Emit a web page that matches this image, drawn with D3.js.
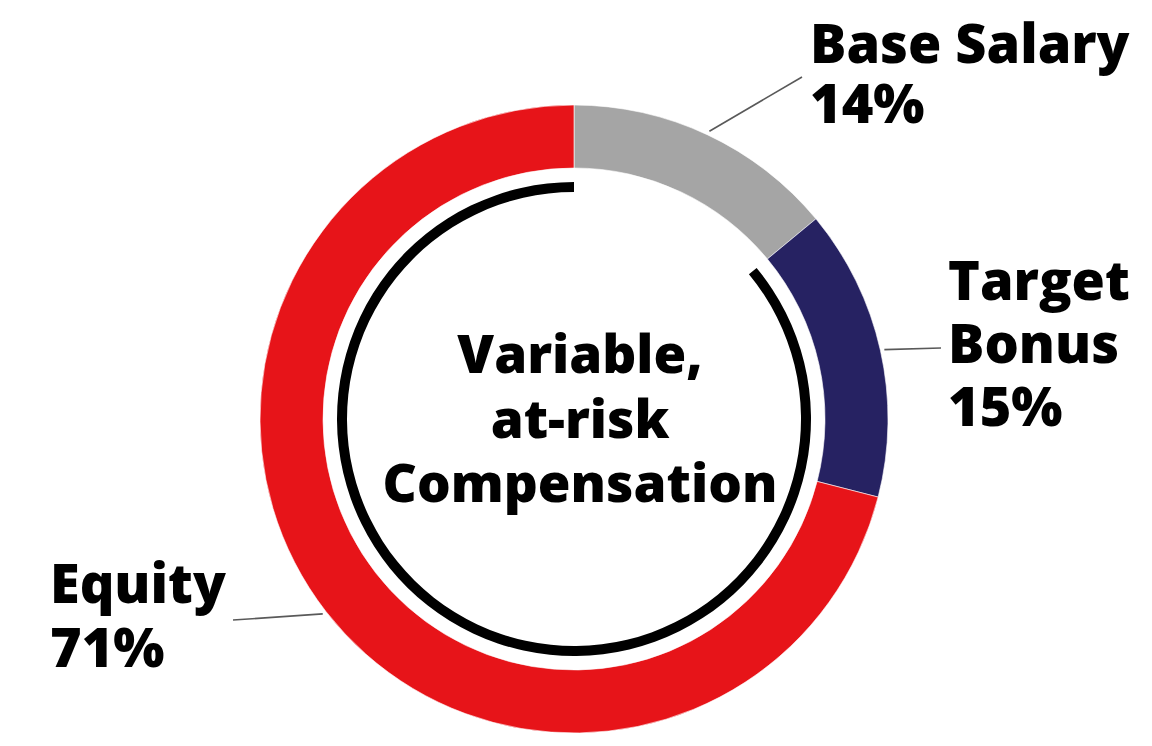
<!DOCTYPE html>
<html>
<head>
    <title>Variable, at-risk compensation</title>
    <style>
        body { margin: 0; background: #fff; }
        text { font-family: "Open Sans", "Noto Sans", sans-serif; font-weight: 800; fill: #000; }
    </style>
</head>
<body>
<svg id="chart" width="1152" height="746"></svg>

<script src="https://d3js.org/d3.v7.min.js"></script>
<script type="text/javascript">

const categories = ['Base Salary', 'Target Bonus', 'Equity'];
const values = [14, 15, 71];
const labelLines = [['Base Salary', '14%'], ['Target', 'Bonus', '15%'], ['Equity', '71%']];
const centerLines = ['Variable,', 'at-risk', 'Compensation'];
// categories that make up the variable part (black inner arc)
const variable = ['Target Bonus', 'Equity'];

function render() {
    const svg = d3.select('#chart');
    const cx = 574, cy = 419;
    const outerR = 314, innerR = 251;

    const color = d3.scaleOrdinal()
        .domain(categories)
        .range(['#a5a5a5', '#262262', '#e71419']);

    const data = categories.map((c, i) => ({ name: c, value: values[i], lines: labelLines[i] }));

    const pie = d3.pie()
        .value(d => d.value)
        .sort(null);
    const arcs = pie(data);

    const arc = d3.arc()
        .innerRadius(innerR)
        .outerRadius(outerR);

    const g = svg.append('g')
        .attr('transform', `translate(${cx}, ${cy})`);

    g.selectAll('.slice')
        .data(arcs)
        .join('path')
            .attr('class', 'slice')
            .attr('d', arc)
            .attr('fill', d => color(d.data.name))
            .attr('stroke', '#fff')
            .attr('stroke-width', 0.6);

    // black arc spanning the variable portion
    const varArcs = arcs.filter(a => variable.includes(a.data.name));
    const blackArc = d3.arc()
        .innerRadius(227)
        .outerRadius(237)
        .startAngle(d3.min(varArcs, a => a.startAngle))
        .endAngle(d3.max(varArcs, a => a.endAngle));
    g.append('path')
        .attr('d', blackArc())
        .attr('fill', '#000');

    // label anchors (end of leader line, text start, first baseline)
    const labelPos = {
        'Base Salary': { lx: 802, ly: 77, tx: 810, ty: 63, lh: 60 },
        'Target Bonus': { lx: 941, ly: 348, tx: 948, ty: 300, lh: 63 },
        'Equity': { lx: 233, ly: 620, tx: 50, ty: 603, lh: 64 }
    };

    const leaderArc = d3.arc()
        .innerRadius(outerR + 4)
        .outerRadius(outerR + 4);

    const labels = svg.append('g').attr('class', 'labels');

    arcs.forEach(a => {
        const p = labelPos[a.data.name];
        const [sx, sy] = leaderArc.centroid(a);
        labels.append('line')
            .attr('x1', cx + sx)
            .attr('y1', cy + sy)
            .attr('x2', p.lx)
            .attr('y2', p.ly)
            .attr('stroke', '#595959')
            .attr('stroke-width', 1.6);

        const t = labels.append('text')
            .attr('x', p.tx)
            .attr('y', p.ty)
            .style('font-size', '54px');
        a.data.lines.forEach((line, i) => {
            t.append('tspan')
                .attr('x', p.tx)
                .attr('dy', i === 0 ? 0 : p.lh)
                .text(line);
        });
    });

    const center = svg.append('text')
        .attr('x', 580)
        .attr('y', 373)
        .attr('text-anchor', 'middle')
        .style('font-size', '53px');
    centerLines.forEach((line, i) => {
        center.append('tspan')
            .attr('x', 580)
            .attr('dy', i === 0 ? 0 : 64.5)
            .text(line);
    });
}

render();

</script>
</body>
</html>
